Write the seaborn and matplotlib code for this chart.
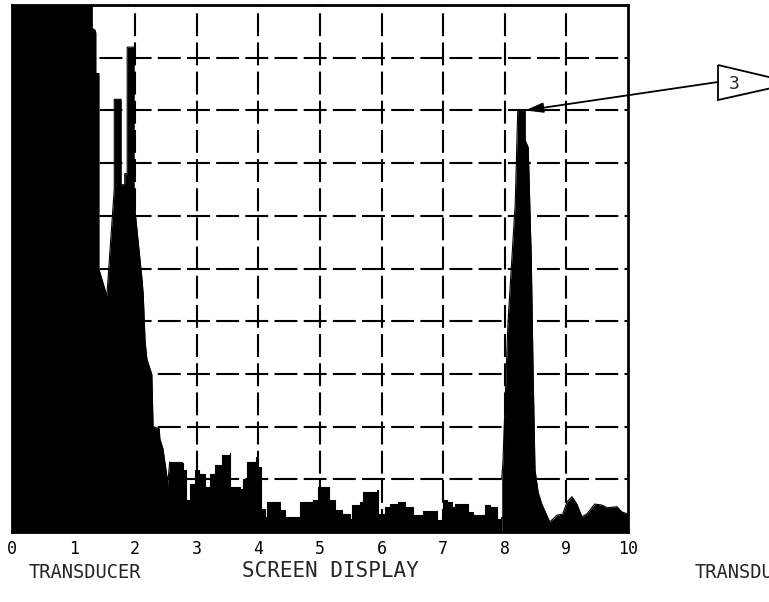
import numpy as np
import pandas as pd
import matplotlib
matplotlib.use("Agg")
import matplotlib.pyplot as plt
import seaborn as sns
from matplotlib.patches import Polygon

sns.set_theme(style="white")
plt.rcParams['font.family'] = ['DejaVu Sans Mono', 'DejaVu Sans']

# A-scan trace read off the screen display (time base 0-10, amplitude 0-10)
# initial pulse + near-surface echoes
bang_x = [0.00, 1.30, 1.30, 1.35, 1.36, 1.36, 1.41, 1.41, 1.54, 1.66, 1.66, 1.77,
          1.77, 1.83, 1.83, 1.87, 1.87, 1.98, 1.98, 2.11, 2.13, 2.16, 2.19, 2.27,
          2.29, 2.39, 2.40, 2.45, 2.52, 2.52]
bang_y = [10.0, 10.0, 9.56, 9.52, 9.47, 8.70, 8.70, 4.99, 4.48, 6.51, 8.21, 8.21,
          6.59, 6.59, 6.80, 6.80, 9.20, 9.20, 6.29, 4.80, 4.51, 3.62, 3.28, 2.99,
          2.00, 1.96, 1.77, 1.58, 1.01, 0.82]
# grass / noise between the pulses (stepped trace)
noise_x = [2.56, 2.76, 2.78, 2.82, 2.89, 2.97, 3.04, 3.13, 3.21, 3.30, 3.41, 3.54,
           3.54, 3.70, 3.75, 3.81, 3.96, 3.98, 4.04, 4.11, 4.14, 4.27, 4.35, 4.43,
           4.59, 4.68, 4.89, 4.97, 5.13, 5.15, 5.24, 5.36, 5.49, 5.52, 5.65, 5.70,
           5.93, 5.94, 6.06, 6.14, 6.27, 6.38, 6.51, 6.67, 6.87, 6.90, 6.98, 7.00,
           7.06, 7.14, 7.19, 7.32, 7.40, 7.48, 7.63, 7.68, 7.76, 7.87, 7.94]
noise_y = [1.33, 1.30, 1.18, 0.61, 0.91, 1.18, 1.10, 0.86, 1.10, 1.28, 1.47, 1.49,
           0.86, 0.82, 1.01, 1.33, 1.43, 1.24, 0.44, 0.29, 0.57, 0.57, 0.42, 0.29,
           0.29, 0.57, 0.61, 0.86, 0.86, 0.61, 0.42, 0.34, 0.25, 0.51, 0.57, 0.76,
           0.80, 0.34, 0.48, 0.53, 0.57, 0.48, 0.32, 0.40, 0.40, 0.23, 0.29, 0.61,
           0.57, 0.48, 0.53, 0.53, 0.38, 0.32, 0.32, 0.51, 0.48, 0.25, 0.29]
# back-wall echo (callout 3) and trailing noise
echo_x = [7.95, 7.97, 8.05, 8.17, 8.21, 8.33, 8.33, 8.38, 8.43, 8.46, 8.49, 8.54,
          8.60, 8.73, 8.85, 8.94, 9.01, 9.09, 9.17, 9.25, 9.33, 9.46, 9.58, 9.66,
          9.82, 9.90, 10.0]
echo_y = [1.01, 1.33, 3.94, 6.25, 8.00, 8.00, 7.43, 7.30, 5.18, 2.99, 1.18, 0.76,
          0.53, 0.19, 0.32, 0.34, 0.57, 0.67, 0.53, 0.29, 0.34, 0.53, 0.51, 0.46,
          0.48, 0.38, 0.34]

ticks = list(range(11))
tick_labels = [str(t) for t in ticks]
callout_label = "3"

bang = pd.DataFrame({"time": bang_x + noise_x[:1], "amp": bang_y + noise_y[:1]})
grass = pd.DataFrame({"time": noise_x + echo_x[:1], "amp": noise_y + noise_y[-1:]})
echo = pd.DataFrame({"time": echo_x, "amp": echo_y})

fig = plt.figure(figsize=(7.69, 6.02), dpi=100)
ax = fig.add_axes([12 / 769, 70 / 602, 616 / 769, 527 / 602])

for part, step in [(bang, None), (grass, "post"), (echo, None)]:
    ax.fill_between(part["time"], 0, part["amp"], step=step, color="black", lw=0, zorder=3)
    sns.lineplot(data=part, x="time", y="amp", estimator=None, sort=False,
                 drawstyle="steps-post" if step else "default",
                 color="black", lw=0.8, ax=ax, zorder=4)

ax.set_xlim(0, 10)
ax.set_ylim(0, 10)
for v in range(1, 10):
    ax.axvline(v, color="black", lw=1.5, ls=(0, (11, 3)), zorder=1)
    ax.axhline(v, color="black", lw=1.5, ls=(0, (11, 3)), zorder=1)

ax.set_xticks(ticks)
ax.set_xticklabels(tick_labels, fontsize=12)
ax.set_yticks([])
ax.tick_params(axis="x", length=0, pad=6, colors="black")
ax.set_xlabel("")
ax.set_ylabel("")
for s in ax.spines.values():
    s.set_visible(True)
    s.set_color("black")
    s.set_linewidth(2)

# callout pointing at the back-wall echo peak
peak_y = echo["amp"].max()
peak_x = echo.loc[echo["amp"] == peak_y, "time"].max()
ax.annotate("", xy=(peak_x, peak_y), xycoords="data",
            xytext=(718 / 769, 1 - 82 / 602), textcoords="figure fraction",
            arrowprops=dict(arrowstyle="-|>,head_length=0.9,head_width=0.25",
                            color="black", lw=1.3, shrinkA=0, shrinkB=0),
            annotation_clip=False)
tri = Polygon([(718 / 769, 1 - 65 / 602), (718 / 769, 1 - 100 / 602),
               (794 / 769, 1 - 83 / 602)], closed=True, fill=False,
              edgecolor="black", lw=1.3, transform=fig.transFigure, clip_on=False)
fig.add_artist(tri)
fig.text(729 / 769, 1 - 84 / 602, callout_label, fontsize=13, va="center", ha="left")

fig.text(330 / 769, 1 - 571 / 602, "SCREEN DISPLAY", fontsize=15, ha="center", va="center")
fig.text(85 / 769, 1 - 573 / 602, "TRANSDUCER", fontsize=13.5, ha="center", va="center")
fig.text(695 / 769, 1 - 573 / 602, "TRANSDUCER", fontsize=13.5, ha="left", va="center")

fig.savefig("out.png", dpi=100)
